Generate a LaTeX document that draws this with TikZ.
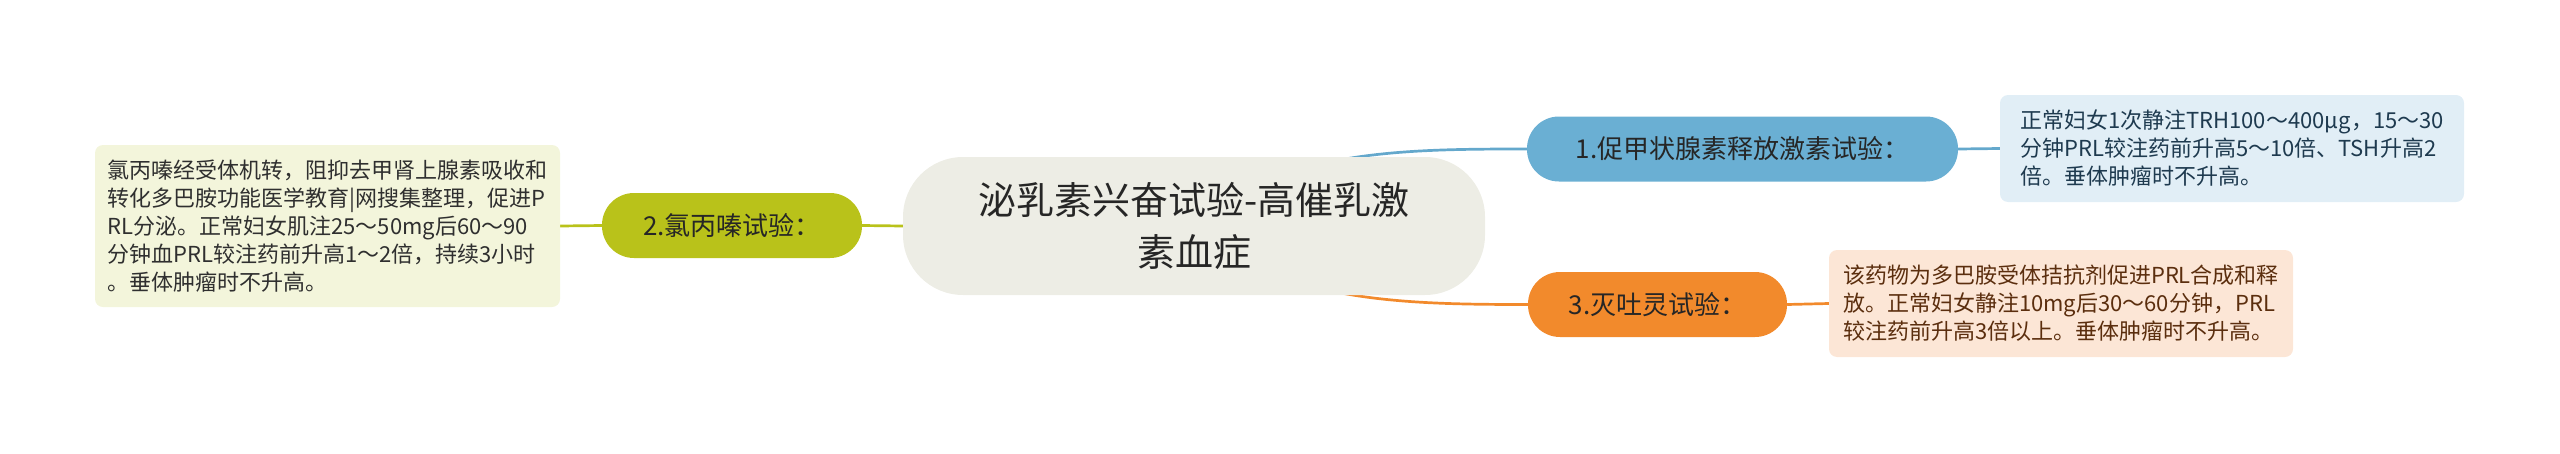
\documentclass[tikz,border=0pt]{standalone}
\usepackage{fontspec}
\setmainfont{Noto Sans CJK SC}
\usetikzlibrary{backgrounds}
\definecolor{cfill}{HTML}{EDEDE5}
\definecolor{olive}{HTML}{B9C21A}
\definecolor{lfill}{HTML}{F3F5DB}
\definecolor{bnode}{HTML}{6AAFD3}
\definecolor{bline}{HTML}{64A8CC}
\definecolor{bfill}{HTML}{E1EEF6}
\definecolor{onode}{HTML}{F28A2C}
\definecolor{ofill}{HTML}{FCE6D6}
\definecolor{ctext}{HTML}{262626}
\definecolor{ltext}{HTML}{2F2F2F}
\definecolor{btext}{HTML}{1E3A4F}
\definecolor{otext}{HTML}{5B2E0E}
\tikzset{
  centralbox/.style={draw=none, fill=cfill, rounded corners=60pt, minimum width=582pt, minimum height=138pt, align=center, text=ctext, font=\fontsize{38}{52}\selectfont, inner sep=0pt},
  childbox/.style={draw=none, rounded corners=32pt, minimum height=65pt, inner sep=0pt, text=ctext, font=\fontsize{26}{32}\selectfont},
  leafbox/.style={draw=none, rounded corners=8pt, inner sep=0pt, align=left, font=\fontsize{22}{28}\selectfont},
  branch/.style={line width=2.7pt}
}
\begin{document}
\begin{tikzpicture}[x=1pt, y=-1pt]
\useasboundingbox (0,0) rectangle (2560,453);
\node[centralbox] (c) at (1194,226) {泌乳素兴奋试验-高催乳激\\素血症};
\node[childbox, fill=olive, minimum width=260pt] (n2) at (732,225.5) {2.氯丙嗪试验：};
\node[leafbox, fill=lfill, text=ltext, minimum width=465pt, minimum height=162pt] (l2) at (327.5,226) {氯丙嗪经受体机转，阻抑去甲肾上腺素吸收和\\转化多巴胺功能医学教育|网搜集整理，促进P\\RL分泌。正常妇女肌注25～50mg后60～90\\分钟血PRL较注药前升高1～2倍，持续3小时\\。垂体肿瘤时不升高。};
\node[childbox, fill=bnode, minimum width=431pt] (n1) at (1742.5,149) {1.促甲状腺素释放激素试验：};
\node[leafbox, fill=bfill, text=btext, minimum width=464pt, minimum height=107pt] (l1) at (2232,148.5) {正常妇女1次静注TRH100～400μg，15～30\\分钟PRL较注药前升高5～10倍、TSH升高2\\倍。垂体肿瘤时不升高。};
\node[childbox, fill=onode, minimum width=259pt] (n3) at (1657.5,304.5) {3.灭吐灵试验：};
\node[leafbox, fill=ofill, text=otext, minimum width=464pt, minimum height=107pt] (l3) at (2061,303.5) {该药物为多巴胺受体拮抗剂促进PRL合成和释\\放。正常妇女静注10mg后30～60分钟，PRL\\较注药前升高3倍以上。垂体肿瘤时不升高。};
\begin{pgfonlayer}{background}
\draw[branch, olive] (l2.east) -- (n2.west);
\draw[branch, olive] (n2.east) -- (c.west);
\draw[branch, bline] (c.center) .. controls (1280,150) and (1400,149) .. (n1.west);
\draw[branch, bline] (n1.east) -- (l1.west);
\draw[branch, onode] (c.center) .. controls (1280,302) and (1400,304.5) .. (n3.west);
\draw[branch, onode] (n3.east) -- (l3.west);
\end{pgfonlayer}
\end{tikzpicture}
\end{document}
